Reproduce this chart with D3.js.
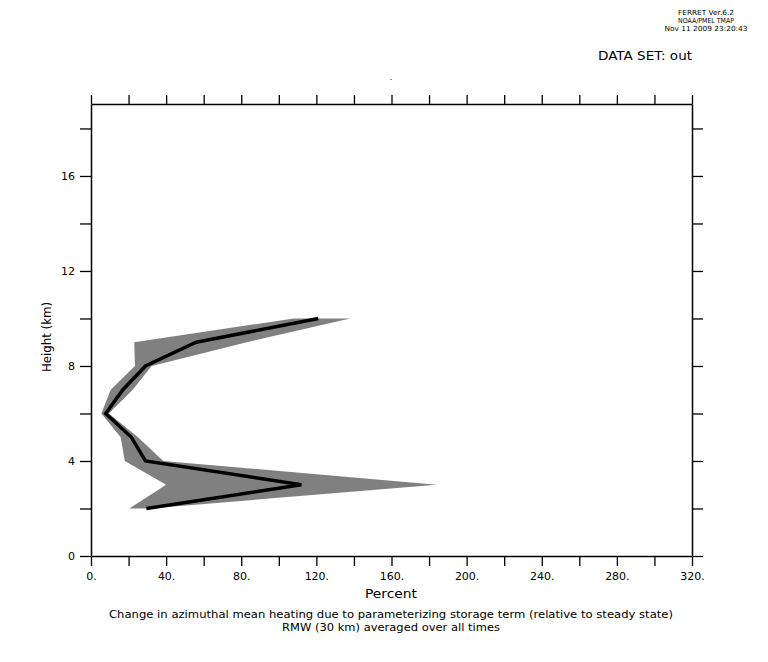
<!DOCTYPE html>
<html>
<head>
<meta charset="utf-8">
<script src="https://cdn.jsdelivr.net/npm/d3@7"></script>
<style>
  body { margin: 0; background: #fff; }
  text { font-family: "DejaVu Sans", "Liberation Sans", sans-serif; fill: #000; }
</style>
</head>
<body>
<div id="chart"></div>
<script>
// Heights (km) and percent values
const heights = [2, 3, 4, 5, 6, 7, 8, 9, 10];
const meanPct = [29.5, 112, 29, 21.5, 7.8, 17, 29, 56, 121];
const lowPct  = [20.4, 40, 18, 15.8, 5.5, 10.5, 23.4, 23, 108];
const highPct = [31.4, 184, 38.5, 25, 9.5, 22.2, 32.3, 83, 138];

const xTicks = [0, 40, 80, 120, 160, 200, 240, 280, 320];
const yTicks = [0, 4, 8, 12, 16];

const width = 768, height = 662;
const marginLeft = 91, plotRight = 692, plotTop = 104, plotBottom = 556;

const x = d3.scaleLinear([0, 320], [marginLeft, plotRight]);
const y = d3.scaleLinear([0, 19.03], [plotBottom, plotTop]);

const svg = d3.create("svg")
    .attr("width", width)
    .attr("height", height)
    .attr("viewBox", [0, 0, width, height]);

const rows = heights.map((h, i) => ({h, m: meanPct[i], lo: lowPct[i], hi: highPct[i]}));

// bande grise
svg.append("path")
    .datum(rows)
    .attr("fill", "#808080")
    .attr("d", d3.area()
        .y(d => y(d.h))
        .x0(d => x(d.lo))
        .x1(d => x(d.hi)));

// moyenne
svg.append("path")
    .datum(rows)
    .attr("fill", "none")
    .attr("stroke", "#000")
    .attr("stroke-width", 3.5)
    .attr("d", d3.line().x(d => x(d.m)).y(d => y(d.h)));

// Axes
const minorX = d3.range(0, 321, 20);
const minorY = d3.range(0, 19, 2);
const fmtX = d => xTicks.includes(d) ? d + "." : "";
const fmtY = d => yTicks.includes(d) ? d : "";

function styleAxis(g) {
  g.selectAll("path.domain").attr("stroke", "#000").attr("stroke-width", 1.5);
  g.selectAll(".tick line").attr("stroke", "#000").attr("stroke-width", 1.3);
  g.selectAll("text").attr("font-size", 11).style("font-family", "DejaVu Sans, sans-serif");
}

svg.append("g")
    .attr("transform", `translate(0,${plotBottom})`)
    .call(d3.axisBottom(x).tickValues(minorX).tickFormat(fmtX).tickSize(10).tickSizeOuter(0).tickPadding(6))
    .call(styleAxis);

svg.append("g")
    .attr("transform", `translate(0,${plotTop})`)
    .call(d3.axisTop(x).tickValues(minorX).tickFormat("").tickSize(9).tickSizeOuter(0))
    .call(styleAxis);

svg.append("g")
    .attr("transform", `translate(${marginLeft},0)`)
    .call(d3.axisLeft(y).tickValues(minorY).tickFormat(fmtY).tickSize(11).tickSizeOuter(0).tickPadding(5))
    .call(styleAxis);

svg.append("g")
    .attr("transform", `translate(${plotRight},0)`)
    .call(d3.axisRight(y).tickValues(minorY).tickFormat("").tickSize(11).tickSizeOuter(0))
    .call(styleAxis);

// Titres
svg.append("text")
    .attr("x", 391).attr("y", 598)
    .attr("text-anchor", "middle")
    .attr("font-size", 12.5)
    .attr("textLength", 52).attr("lengthAdjust", "spacingAndGlyphs")
    .text("Percent");

svg.append("text")
    .attr("transform", "translate(51,337) rotate(-90)")
    .attr("text-anchor", "middle")
    .attr("font-size", 12.5)
    .attr("textLength", 70).attr("lengthAdjust", "spacingAndGlyphs")
    .text("Height (km)");

svg.append("text")
    .attr("x", 391).attr("y", 618)
    .attr("text-anchor", "middle")
    .attr("font-size", 10.5)
    .attr("textLength", 564).attr("lengthAdjust", "spacingAndGlyphs")
    .text("Change in azimuthal mean heating due to parameterizing storage term (relative to steady state)");

svg.append("text")
    .attr("x", 391).attr("y", 631)
    .attr("text-anchor", "middle")
    .attr("font-size", 10.5)
    .attr("textLength", 218).attr("lengthAdjust", "spacingAndGlyphs")
    .text("RMW (30 km) averaged over all times");

svg.append("text")
    .attr("x", 692).attr("y", 60)
    .attr("text-anchor", "end")
    .attr("font-size", 13)
    .attr("textLength", 94).attr("lengthAdjust", "spacingAndGlyphs")
    .text("DATA SET: out");

const header = ["FERRET  Ver.6.2", "NOAA/PMEL TMAP", "Nov 11 2009 23:20:43"];
const headerLen = [56, 56, 83];
svg.append("g")
    .selectAll("text")
    .data(header)
    .join("text")
      .attr("x", 706)
      .attr("y", (d, i) => 15 + i * 8)
      .attr("text-anchor", "middle")
      .attr("font-size", 7)
      .attr("textLength", (d, i) => headerLen[i])
      .attr("lengthAdjust", "spacingAndGlyphs")
      .text(d => d);

svg.append("text")
    .attr("x", 391).attr("y", 80)
    .attr("text-anchor", "middle")
    .attr("font-size", 8)
    .text(".");

document.getElementById("chart").appendChild(svg.node());
</script>
</body>
</html>
